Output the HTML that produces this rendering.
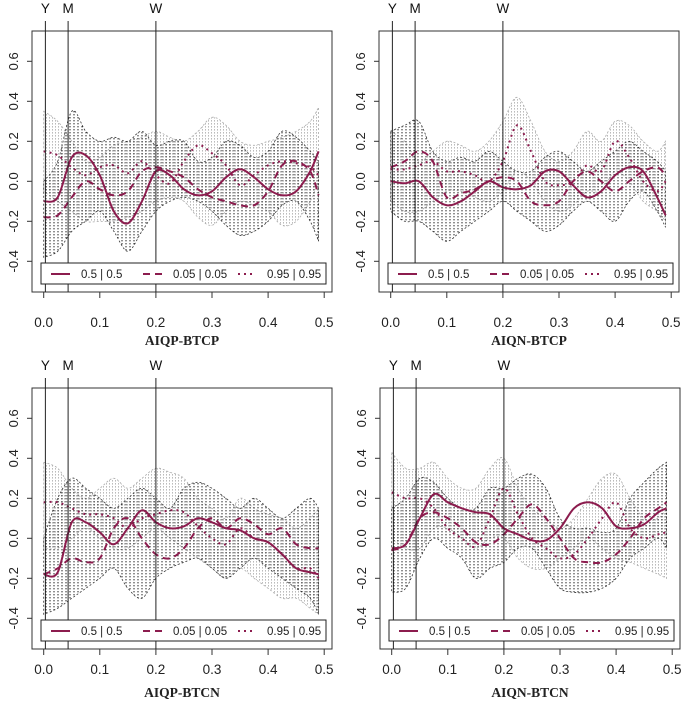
<!DOCTYPE html>
<html><head><meta charset="utf-8"><style>
body{margin:0;background:#fff}
svg{display:block;font-family:"Liberation Sans",sans-serif}
</style></head><body>
<svg id="c" width="685" height="702" viewBox="0 0 685 702">
<defs>
<pattern id="hd" width="4" height="3" patternUnits="userSpaceOnUse"><rect x="1.5" y="0" width="1" height="1.4" fill="#222"/></pattern>
<pattern id="hl" width="3" height="3" patternUnits="userSpaceOnUse"><rect x="1" y="0" width="1" height="1.6" fill="#bbb"/></pattern>
</defs>
</svg>
<script>
const freqs=[0,0.025,0.05,0.075,0.1,0.125,0.15,0.175,0.2,0.225,0.25,0.275,0.3,0.325,0.35,0.375,0.4,0.425,0.45,0.475,0.49];
const titles=["AIQP-BTCP","AIQN-BTCP","AIQP-BTCN","AIQN-BTCN"];
const yTicks=[-0.4,-0.2,0.0,0.2,0.4,0.6];
const xTicks=[0,0.1,0.2,0.3,0.4,0.5];
const markers=["Y","M","W"];
const markerFreqs=[0.003,0.0435,0.2];
const legendLabels=["0.5 | 0.5","0.05 | 0.05","0.95 | 0.95"];
const median=[
[-0.10,-0.08,0.12,0.13,0.03,-0.15,-0.21,-0.10,0.05,0.03,-0.04,-0.07,-0.05,0.02,0.06,0.02,-0.04,-0.07,-0.05,0.05,0.15],
[0.00,-0.01,0.00,-0.08,-0.12,-0.10,-0.05,0.00,-0.03,-0.04,-0.02,0.05,0.05,-0.02,-0.08,-0.05,0.03,0.07,0.05,-0.08,-0.17],
[-0.18,-0.17,0.08,0.08,0.03,-0.03,0.05,0.14,0.08,0.05,0.06,0.10,0.08,0.05,0.04,0.00,-0.02,-0.08,-0.15,-0.17,-0.18],
[-0.05,-0.03,0.10,0.22,0.18,0.15,0.13,0.12,0.05,0.02,-0.01,-0.01,0.05,0.15,0.18,0.15,0.06,0.05,0.07,0.13,0.15]];
const q05=[
[-0.18,-0.17,-0.08,0.00,-0.04,-0.07,-0.05,0.05,0.07,0.05,0.02,-0.04,-0.08,-0.10,-0.12,-0.12,-0.05,0.08,0.10,0.05,-0.07],
[0.07,0.10,0.15,0.10,-0.08,-0.06,-0.04,0.00,0.02,0.00,-0.10,-0.12,-0.10,0.00,0.05,0.00,-0.05,0.00,0.05,0.07,0.03],
[-0.18,-0.15,-0.10,-0.12,-0.10,0.05,0.10,0.00,-0.08,-0.10,-0.05,0.05,0.10,0.05,0.10,0.07,0.02,0.05,-0.03,-0.05,-0.05],
[-0.06,-0.03,0.10,0.13,0.10,0.05,-0.02,-0.03,0.02,0.10,0.17,0.10,0.00,-0.10,-0.12,-0.12,-0.08,0.00,0.10,0.15,0.18]];
const q95=[
[0.15,0.13,0.07,0.03,0.07,0.08,0.04,0.10,0.03,-0.01,0.10,0.18,0.14,0.08,-0.02,0.03,0.08,0.10,0.09,0.07,0.03],
[0.06,0.06,0.08,0.10,0.05,0.05,0.03,0.00,0.10,0.28,0.15,0.00,-0.02,0.00,0.08,0.05,0.20,0.12,0.00,-0.05,0.00],
[0.18,0.18,0.15,0.12,0.12,0.10,0.05,0.10,0.12,0.14,0.13,0.06,0.00,-0.03,0.05,0.00,-0.02,-0.08,-0.15,-0.15,-0.20],
[0.23,0.20,0.20,0.15,0.05,0.00,-0.04,0.10,0.25,0.12,0.00,-0.05,-0.10,-0.08,0.00,0.10,0.18,0.05,0.00,0.02,0.03]];
const darkUp=[
[0.00,0.10,0.35,0.25,0.20,0.22,0.20,0.25,0.18,0.20,0.20,0.10,0.12,0.20,0.18,0.12,0.15,0.25,0.22,0.15,0.10],
[0.25,0.28,0.30,0.15,0.10,0.12,0.10,0.15,0.10,0.05,0.05,0.12,0.15,0.10,0.05,0.10,0.15,0.20,0.15,0.10,0.05],
[0.00,0.20,0.30,0.25,0.20,0.15,0.20,0.25,0.20,0.15,0.25,0.28,0.25,0.20,0.15,0.20,0.15,0.10,0.15,0.20,0.15],
[0.15,0.20,0.30,0.28,0.20,0.15,0.15,0.25,0.25,0.30,0.32,0.25,0.10,0.05,0.05,0.03,0.05,0.20,0.28,0.35,0.38]];
const darkLo=[
[-0.38,-0.35,-0.25,-0.20,-0.15,-0.25,-0.35,-0.25,-0.15,-0.10,-0.08,-0.10,-0.15,-0.22,-0.27,-0.25,-0.20,-0.12,-0.10,-0.20,-0.30],
[-0.15,-0.20,-0.20,-0.25,-0.30,-0.25,-0.20,-0.15,-0.10,-0.15,-0.20,-0.25,-0.22,-0.15,-0.10,-0.15,-0.20,-0.10,-0.05,-0.15,-0.23],
[-0.38,-0.35,-0.30,-0.25,-0.20,-0.15,-0.25,-0.30,-0.20,-0.15,-0.12,-0.10,-0.15,-0.20,-0.15,-0.10,-0.15,-0.20,-0.25,-0.30,-0.38],
[-0.27,-0.25,-0.10,0.00,-0.05,-0.10,-0.20,-0.15,-0.12,-0.05,-0.05,-0.15,-0.25,-0.27,-0.27,-0.25,-0.20,-0.10,-0.05,0.00,-0.05]];
const lightUp=[
[0.35,0.30,0.20,0.10,0.12,0.18,0.20,0.22,0.25,0.22,0.20,0.25,0.32,0.28,0.20,0.18,0.20,0.22,0.25,0.30,0.37],
[0.25,0.20,0.10,0.15,0.20,0.18,0.15,0.20,0.30,0.42,0.30,0.15,0.10,0.15,0.25,0.20,0.30,0.28,0.20,0.15,0.20],
[0.38,0.35,0.25,0.20,0.25,0.30,0.25,0.30,0.35,0.33,0.30,0.20,0.15,0.10,0.20,0.15,0.12,0.10,0.05,0.10,0.15],
[0.43,0.35,0.35,0.38,0.30,0.25,0.25,0.35,0.40,0.25,0.15,0.10,0.05,0.10,0.20,0.30,0.32,0.20,0.10,0.10,0.15]];
const lightLo=[
[-0.05,-0.10,-0.15,-0.20,-0.20,-0.20,-0.18,-0.15,-0.10,-0.08,-0.10,-0.18,-0.22,-0.15,-0.10,-0.12,-0.15,-0.22,-0.20,-0.10,0.00],
[-0.10,-0.15,-0.15,-0.10,-0.05,-0.05,-0.08,-0.10,-0.05,0.05,0.00,-0.10,-0.15,-0.12,-0.05,-0.05,0.05,0.00,-0.10,-0.15,-0.20],
[-0.05,-0.05,0.00,0.05,0.00,-0.05,-0.05,0.00,0.05,0.00,-0.05,-0.10,-0.15,-0.20,-0.15,-0.20,-0.25,-0.30,-0.30,-0.35,-0.38],
[0.00,-0.05,-0.05,0.05,0.05,0.00,-0.05,0.00,0.00,-0.10,-0.15,-0.15,-0.10,-0.05,0.00,-0.05,-0.10,-0.12,-0.15,-0.18,-0.20]];

const svg=document.getElementById('c');
const NS='http://www.w3.org/2000/svg';
const COL='#8c1c4e';
function mk(tag,attrs,parent){const e=document.createElementNS(NS,tag);for(const k in attrs)e.setAttribute(k,attrs[k]);(parent||svg).appendChild(e);return e;}
const offs=[[0,0],[347,0],[0,357],[348,357]];
const tickLabelY=[327,327,674,674];
const titleY=[345,345,697,697];
function smooth(pts){let d='M'+pts[0][0]+','+pts[0][1];for(let i=0;i<pts.length-1;i++){const p0=pts[Math.max(i-1,0)],p1=pts[i],p2=pts[i+1],p3=pts[Math.min(i+2,pts.length-1)];const c1=[p1[0]+(p2[0]-p0[0])/6,p1[1]+(p2[1]-p0[1])/6],c2=[p2[0]-(p3[0]-p1[0])/6,p2[1]-(p3[1]-p1[1])/6];d+=' C'+c1[0].toFixed(1)+','+c1[1].toFixed(1)+' '+c2[0].toFixed(1)+','+c2[1].toFixed(1)+' '+p2[0].toFixed(1)+','+p2[1].toFixed(1);}return d;}
function smoothNoM(pts){return smooth(pts).replace(/^M[^ ]+/,'L'+pts[0][0]+','+pts[0][1]);}
for(let p=0;p<4;p++){
  const [ox,oy]=offs[p];
  const g=mk('g',{});
  
  
  const X=v=>ox+43.7+v*561;
  const Y=v=>oy+181.3-v*200;
  const L=ox+32,R=ox+332,T=oy+31,B=oy+292;
  function band(up,lo,fill,stroke,name){
    const u=freqs.map((f,i)=>[X(f),Y(up[p][i])]);
    const l=freqs.map((f,i)=>[X(f),Y(lo[p][i])]).reverse();
    const b=mk('path',{d:smooth(u)+' '+smoothNoM(l)+' Z',fill:fill,stroke:stroke,'stroke-width':0.8,'stroke-dasharray':'2,2'},g);
    
    
  }
  band(lightUp,lightLo,'url(#hl)','#aaa','light-confidence-band');
  band(darkUp,darkLo,'url(#hd)','#333','dark-confidence-band');
  function line(arr,dash,name){
    const pts=freqs.map((f,i)=>[X(f),Y(arr[p][i])]);
    const a={d:smooth(pts),fill:'none',stroke:COL,'stroke-width':2};
    if(dash)a['stroke-dasharray']=dash;
    const e=mk('path',a,g);
    
    
  }
  line(q95,'2,4','series-q95');
  line(q05,'7,5','series-q05');
  line(median,null,'series-median');
  const box=mk('rect',{x:L,y:T,width:R-L,height:B-T,fill:'none',stroke:'#333','stroke-width':1},g);
  
  
  markers.forEach((m,i)=>{
    const x=X(markerFreqs[i]);
    const ln=mk('line',{x1:x,x2:x,y1:oy+21,y2:B,stroke:'#222','stroke-width':1},g);
    
    
    const t=mk('text',{x:x,y:oy+13,'text-anchor':'middle','font-size':13.5,fill:'#111'},g);
    t.textContent=m;
    
    
  });
  yTicks.forEach(v=>{
    const y=Y(v);
    mk('line',{x1:L-5,x2:L,y1:y,y2:y,stroke:'#333'},g);
    const t=mk('text',{x:0,y:0,transform:`translate(${ox+18},${y}) rotate(-90)`,'text-anchor':'middle','font-size':13,fill:'#222'},g);
    t.textContent=v.toFixed(1);
    
    
  });
  xTicks.forEach(v=>{
    const x=X(v);
    mk('line',{x1:x,x2:x,y1:B,y2:B+6,stroke:'#333'},g);
    const t=mk('text',{x:x,y:tickLabelY[p],'text-anchor':'middle','font-size':13.5,fill:'#222'},g);
    t.textContent=v.toFixed(1);
    
    
  });
  const tt=mk('text',{x:(L+R)/2,y:titleY[p],'text-anchor':'middle','font-size':13.5,'font-weight':'bold','font-family':'Liberation Serif, serif',fill:'#222'},g);
  tt.textContent=titles[p];
  
  
  const lg=mk('g',{},g);
  
  
  mk('rect',{x:ox+41,y:oy+263,width:285,height:21,fill:'#fff',stroke:'#222'},lg);
  const items=[[ox+51,ox+70,null,ox+81],[ox+143,ox+165,'7,5',ox+173],[ox+238,ox+256,'2,4',ox+267]];
  items.forEach((it,i)=>{
    const a={x1:it[0],x2:it[1],y1:oy+274,y2:oy+274,stroke:COL,'stroke-width':2};
    if(it[2])a['stroke-dasharray']=it[2];
    const ln=mk('line',a,lg);
    
    
    const t=mk('text',{x:it[3],y:oy+278,'font-size':11.5,fill:'#222'},lg);
    t.textContent=legendLabels[i];
    
    
  });
}
</script>
</body></html>
